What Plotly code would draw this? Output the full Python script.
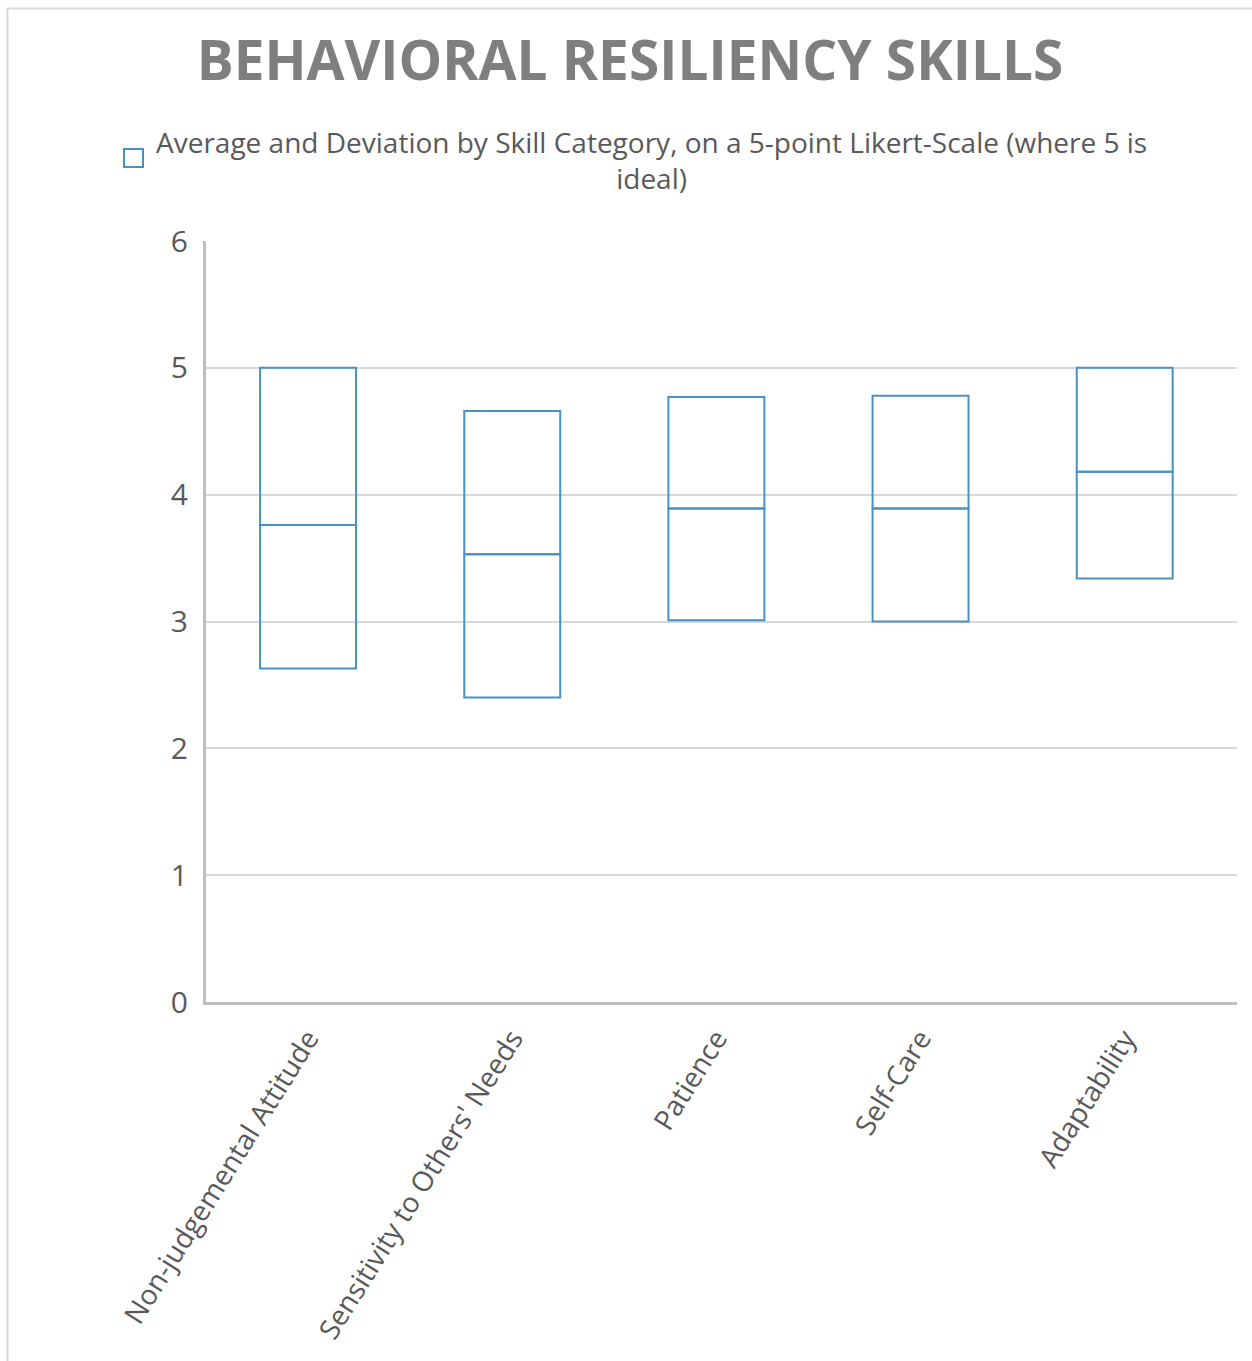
import plotly.graph_objects as go

# Skill categories and their score ranges (5-point Likert scale)
categories = [
    "Non-judgemental Attitude",
    "Sensitivity to Others' Needs",
    "Patience",
    "Self-Care",
    "Adaptability",
]
low_values = [2.63, 2.40, 3.01, 3.00, 3.34]
mean_values = [3.76, 3.53, 3.89, 3.89, 4.18]
high_values = [5.00, 4.66, 4.77, 4.78, 5.00]
y_ticks = [0, 1, 2, 3, 4, 5, 6]

W, H = 1252, 1361
PLOT_L, PLOT_R, PLOT_T, PLOT_B = 206, 1237, 241, 1002
BLUE = "#4A90C2"
GRID = "#D9D9D9"
TEXT = "#595959"
FONT = "Open Sans"


def px(x):
    return (x - PLOT_L) / (PLOT_R - PLOT_L)


def py(y):
    return (PLOT_B - y) / (PLOT_B - PLOT_T)


lower_span = [m - lo for m, lo in zip(mean_values, low_values)]
upper_span = [hi - m for hi, m in zip(high_values, mean_values)]

BOX_W = 0.47
fig = go.Figure()
# lower half of each box: low -> mean
fig.add_trace(go.Bar(
    x=categories, y=lower_span, base=low_values,
    marker=dict(color="rgba(255,255,255,0)", line=dict(color=BLUE, width=2)),
    width=BOX_W, showlegend=False, hoverinfo="skip",
))
# upper half of each box: mean -> high
fig.add_trace(go.Bar(
    x=categories, y=upper_span, base=mean_values,
    marker=dict(color="rgba(255,255,255,0)", line=dict(color=BLUE, width=2)),
    width=BOX_W, showlegend=False, hoverinfo="skip",
))

shapes = [
    # chart frame (top and left edges)
    dict(type="path", xref="paper", yref="paper",
         path=f"M {px(7.5)} {py(1361)} L {px(7.5)} {py(8.5)} L {px(1252)} {py(8.5)}",
         line=dict(color=GRID, width=2)),
    # legend swatch
    dict(type="rect", xref="paper", yref="paper",
         x0=px(124), x1=px(143), y0=py(167), y1=py(149),
         line=dict(color=BLUE, width=2), fillcolor="white"),
]

annotations = [
    dict(text="Average and Deviation by Skill Category, on a 5-point Likert-Scale (where 5 is<br>ideal)",
         xref="paper", yref="paper", x=px(651), y=py(160),
         xanchor="center", yanchor="middle", align="center", showarrow=False,
         font=dict(family=FONT, size=28, color=TEXT)),
]

fig.update_layout(
    width=W, height=H,
    margin=dict(l=PLOT_L, r=W - PLOT_R, t=PLOT_T, b=H - PLOT_B, pad=0),
    paper_bgcolor="white", plot_bgcolor="white",
    barmode="overlay",
    title=dict(text="<b>BEHAVIORAL RESILIENCY SKILLS</b>",
               xref="container", yref="container",
               x=630 / W, y=1 - 61 / H, xanchor="center", yanchor="middle",
               font=dict(family=FONT, size=55, color="#7F7F7F")),
    shapes=shapes,
    annotations=annotations,
    showlegend=False,
    xaxis=dict(
        type="category", range=[-0.5, 4.55], showgrid=False,
        showline=True, linecolor="#BFBFBF", linewidth=3,
        ticks="", tickangle=-58, ticklabelstandoff=6,
        tickfont=dict(family=FONT, size=28, color=TEXT),
    ),
    yaxis=dict(
        range=[0, 6], tickvals=y_ticks, showgrid=True, gridcolor=GRID, gridwidth=2,
        showline=True, linecolor="#BFBFBF", linewidth=3, zeroline=False,
        ticks="", ticklabelstandoff=9,
        tickfont=dict(family=FONT, size=30, color=TEXT),
    ),
)

fig.write_html("out.html")
